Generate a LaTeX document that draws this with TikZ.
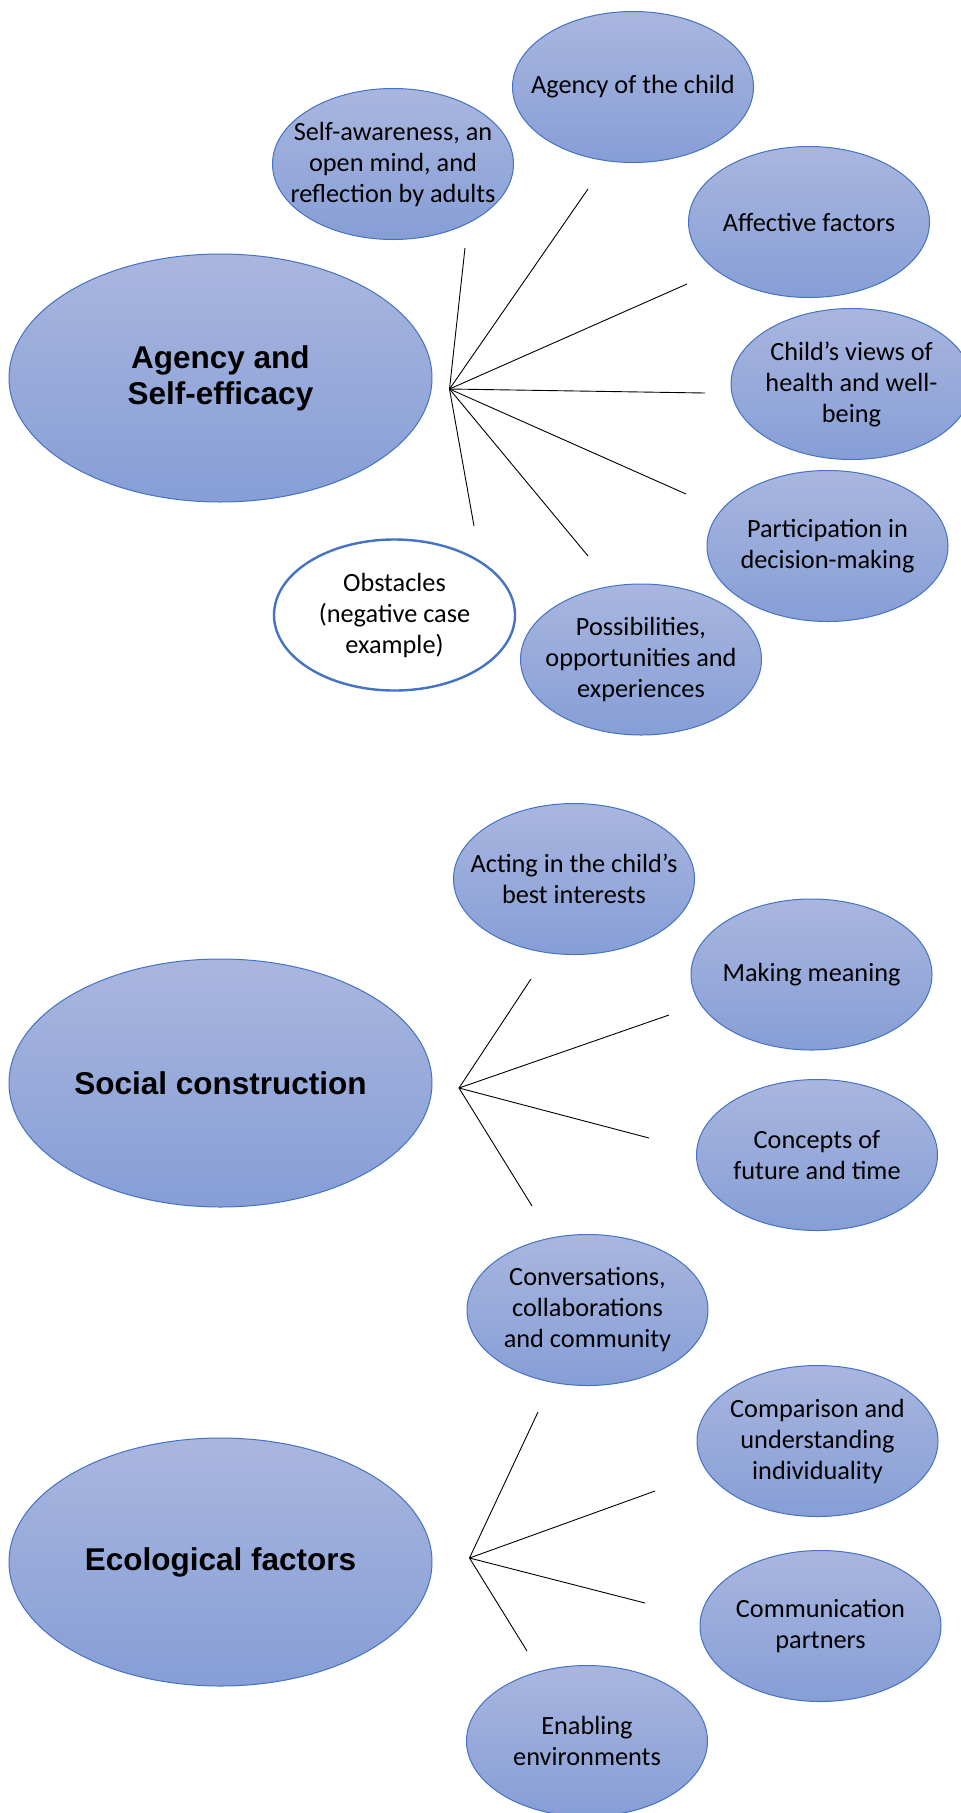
\documentclass[tikz,border=0pt]{standalone}
\usepackage{fontspec}
\setmainfont{Carlito}
\newfontfamily\headfont{Liberation Sans}
\usetikzlibrary{shapes.geometric}

\definecolor{bubtop}{RGB}{169,182,223}
\definecolor{bubbot}{RGB}{134,158,214}
\definecolor{bubline}{RGB}{68,114,196}

\tikzset{
    blob/.style={ellipse, draw=bubline, minimum width=241pt, minimum height=151pt,
        inner xsep=-25pt, inner ysep=0pt, align=center, font=\fontsize{26.3}{31}\selectfont},
    bubble/.style={blob, line width=1pt, top color=bubtop, bottom color=bubbot},
    hollow/.style={blob, line width=2.4pt, fill=white},
    theme/.style={bubble, minimum width=423pt, minimum height=248pt,
        font=\headfont\bfseries\fontsize{31.5}{36}\selectfont},
    spoke/.style={draw=black, line width=0.9pt}
}

\begin{document}
\begin{tikzpicture}[x=1pt,y=-1pt]
            \useasboundingbox[fill=white] (0,0) rectangle (961,1813);

            % agency and self-efficacy
            \node[theme] (agency) at (220.5,378) {Agency and\\Self-efficacy};
            \node[bubble] (aware) at (393,164) {Self-awareness, an\\open mind, and\\reflection by adults};
            \node[bubble] (child) at (633,87) {Agency of the child};
            \node[bubble] (affect) at (809,222) {Affective factors};
            \node[bubble] (views) at (851.5,384) {Child’s views of\\health and well-\\being};
            \node[bubble] (partic) at (827.5,546) {Participation in\\decision-making};
            \node[bubble] (possib) at (641,659.5) {Possibilities,\\opportunities and\\experiences};
            \node[hollow] (obstac) at (394.5,615) {Obstacles\\(negative case\\example)};

            \coordinate (hubA) at (449.5,389);
            \coordinate (toAware) at (465,248);
            \coordinate (toChild) at (588,189);
            \coordinate (toAffect) at (687,284);
            \coordinate (toViews) at (705,393);
            \coordinate (toPartic) at (686,494);
            \coordinate (toPossib) at (588,556);
            \coordinate (toObstac) at (474,526);
            \foreach \e in {toAware,toChild,toAffect,toViews,toPartic,toPossib,toObstac} {
                \draw[spoke] (hubA) -- (\e);
            }

            % social construction
            \node[theme] (social) at (220.5,1083) {Social construction};
            \node[bubble] (acting) at (574,879) {Acting in the child’s\\best interests};
            \node[bubble] (making) at (811.5,974.5) {Making meaning};
            \node[bubble] (concepts) at (817,1155) {Concepts of\\future and time};
            \node[bubble] (convers) at (587.5,1310) {Conversations,\\collaborations\\and community};

            \coordinate (hubB) at (459,1088);
            \coordinate (toActing) at (531,979);
            \coordinate (toMaking) at (669,1015);
            \coordinate (toConcepts) at (649,1138);
            \coordinate (toConvers) at (532,1206);
            \foreach \e in {toActing,toMaking,toConcepts,toConvers} {
                \draw[spoke] (hubB) -- (\e);
            }

            % ecological factors
            \node[theme] (ecolog) at (220.5,1562) {Ecological factors};
            \node[bubble] (compar) at (817.5,1441) {Comparison and\\understanding\\individuality};
            \node[bubble] (commun) at (820.5,1626) {Communication\\partners};
            \node[bubble] (enabl) at (587,1741) {Enabling\\environments};

            \coordinate (hubC) at (469.5,1558);
            \coordinate (toConv2) at (538,1412);
            \coordinate (toCompar) at (655,1491);
            \coordinate (toCommun) at (645,1603);
            \coordinate (toEnabl) at (527,1651);
            \foreach \e in {toConv2,toCompar,toCommun,toEnabl} {
                \draw[spoke] (hubC) -- (\e);
            }
\end{tikzpicture}
\end{document}
